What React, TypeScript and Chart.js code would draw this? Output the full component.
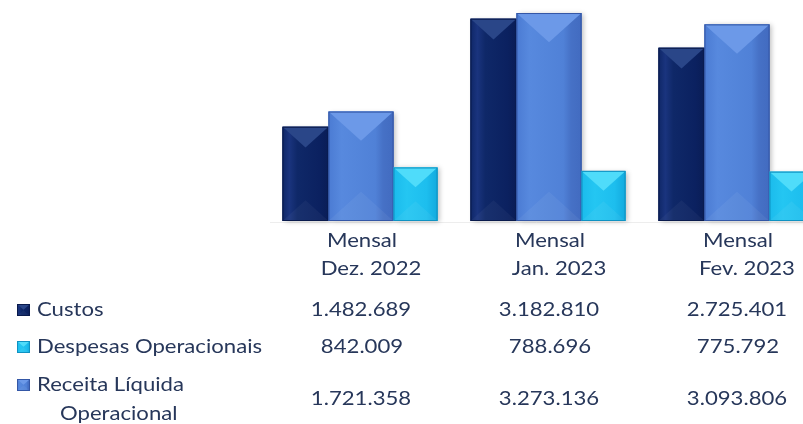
import React, { useEffect, useRef } from "react";
import { Chart, registerables } from "chart.js";

Chart.register(...registerables);

// ---------------- data ----------------
const columnTitle = "Mensal";
const categories = ["Dez. 2022", "Jan. 2023", "Fev. 2023"];
const seriesCustos = "Custos";
const seriesDespesas = "Despesas Operacionais";
const seriesReceitaLine1 = "Receita Líquida";
const seriesReceitaLine2 = "Operacional";
const custos = [1482689, 3182810, 2725401];
const despesas = [842009, 788696, 775792];
const receita = [1721358, 3273136, 3093806];

// ---------------- styles ----------------
const FONT = "Lato, 'Open Sans', sans-serif";
const FONT_SIZE = 19;
const SX = 1.165;
const TEXT_COLOR = "#27375a";

type Facets = { stops: [number, string][]; top: string; bottom: string; border: string; base: string };
const STYLE_CUSTOS: Facets = {
  stops: [[0, "#0f2767"], [0.15, "#1a347e"], [0.32, "#0f2868"], [0.8, "#0b2160"], [1, "#0a1d56"]],
  top: "#2a4688", bottom: "rgba(255,255,255,0.04)", border: "#091a4c", base: "#112a6c",
};
const STYLE_RECEITA: Facets = {
  stops: [[0, "#4b7bd3"], [0.2, "#5789de"], [0.72, "#5081d7"], [0.84, "#4671c6"], [1, "#426bc0"]],
  top: "#6c99e8", bottom: "rgba(255,255,255,0.05)", border: "#3457a6", base: "#4b7ad0",
};
const STYLE_DESPESAS: Facets = {
  stops: [[0, "#1bbbec"], [0.3, "#24c6f2"], [0.75, "#1dbeee"], [1, "#12aade"]],
  top: "#4fdcfa", bottom: "rgba(255,255,255,0.05)", border: "#0f92c2", base: "#1ebdec",
};

function fmt(n: number): string {
  return String(n).replace(/\B(?=(\d{3})+(?!\d))/g, ".");
}

function drawStretched(ctx: CanvasRenderingContext2D, text: string, x: number, y: number, align: "left" | "center") {
  ctx.save();
  ctx.font = `${FONT_SIZE}px ${FONT}`;
  ctx.fillStyle = TEXT_COLOR;
  ctx.textBaseline = "alphabetic";
  const w = ctx.measureText(text).width * SX;
  const left = align === "center" ? x - w / 2 : x;
  ctx.translate(left, y);
  ctx.scale(SX, 1);
  ctx.textAlign = "left";
  ctx.fillText(text, 0, 0);
  ctx.restore();
}

function drawFacets(ctx: CanvasRenderingContext2D, L: number, R: number, T: number, B: number, s: Facets) {
  const w = R - L;
  const h = B - T;
  const d = Math.min(w * 0.45, h / 2);
  ctx.save();
  const g = ctx.createLinearGradient(L, 0, R, 0);
  s.stops.forEach(([p, c]) => g.addColorStop(p, c));
  ctx.fillStyle = g;
  ctx.fillRect(L, T, w, h);
  // top bevel
  ctx.fillStyle = s.top;
  ctx.beginPath();
  ctx.moveTo(L, T);
  ctx.lineTo(R, T);
  ctx.lineTo(L + w / 2, T + d);
  ctx.closePath();
  ctx.fill();
  // bottom bevel
  ctx.fillStyle = s.bottom;
  ctx.beginPath();
  ctx.moveTo(L, B);
  ctx.lineTo(R, B);
  ctx.lineTo(L + w / 2, B - d);
  ctx.closePath();
  ctx.fill();
  // border
  ctx.strokeStyle = s.border;
  ctx.lineWidth = 1;
  ctx.strokeRect(L + 0.5, T + 0.5, w - 1, h - 1);
  ctx.restore();
}

const bevelPlugin = {
  id: "bevelBars",
  afterDatasetsUpdate(chart: any) {
    const xs = chart.scales.x;
    const widths = chart.data.datasets.map((d: any) => d.barW as number);
    const total = widths.reduce((a: number, b: number) => a + b, 0);
    chart.data.datasets.forEach((ds: any, di: number) => {
      const meta = chart.getDatasetMeta(di);
      let off = -total / 2;
      for (let k = 0; k < di; k++) off += widths[k];
      meta.data.forEach((el: any, i: number) => {
        const c = xs.getPixelForValue(i);
        el.x = c + off + widths[di] / 2;
        el.width = widths[di];
      });
    });
  },
  beforeDatasetsDraw(chart: any) {
    const ctx: CanvasRenderingContext2D = chart.ctx;
    ctx.save();
    ctx.strokeStyle = "#ededed";
    ctx.lineWidth = 1;
    ctx.beginPath();
    ctx.moveTo(270, chart.chartArea.bottom + 1.5);
    ctx.lineTo(chart.width, chart.chartArea.bottom + 1.5);
    ctx.stroke();
    chart.data.datasets.forEach((ds: any, di: number) => {
      const meta = chart.getDatasetMeta(di);
      meta.data.forEach((el: any) => {
        const L = el.x - el.width / 2;
        const T = el.y;
        ctx.shadowColor = "rgba(0,0,0,0.25)";
        ctx.shadowBlur = 5;
        ctx.shadowOffsetX = 2;
        ctx.shadowOffsetY = 1;
        ctx.fillStyle = "#888";
        ctx.fillRect(L, T, el.width, el.base - T);
      });
    });
    ctx.restore();
  },
  afterDatasetsDraw(chart: any) {
    const ctx: CanvasRenderingContext2D = chart.ctx;
    chart.data.datasets.forEach((ds: any, di: number) => {
      const meta = chart.getDatasetMeta(di);
      meta.data.forEach((el: any) => {
        const L = el.x - el.width / 2;
        const R = el.x + el.width / 2;
        drawFacets(ctx, L, R, el.y, el.base, ds.facets as Facets);
      });
    });
  },
  afterDraw(chart: any) {
    const ctx: CanvasRenderingContext2D = chart.ctx;
    const xs = chart.scales.x;
    categories.forEach((cat, i) => {
      const c = xs.getPixelForValue(i);
      drawStretched(ctx, columnTitle, c + 2, 247, "center");
      drawStretched(ctx, cat, c + 11, 275, "center");
      drawStretched(ctx, fmt(custos[i]), c + 1, 316, "center");
      drawStretched(ctx, fmt(despesas[i]), c + 2, 353, "center");
      drawStretched(ctx, fmt(receita[i]), c + 1, 405, "center");
    });
    const key = (y: number, s: Facets) => {
      drawFacets(ctx, 17, 30, y, y + 12, s);
    };
    key(304, STYLE_CUSTOS);
    key(341, STYLE_DESPESAS);
    key(379, STYLE_RECEITA);
    drawStretched(ctx, seriesCustos, 37, 316, "left");
    drawStretched(ctx, seriesDespesas, 37, 353, "left");
    drawStretched(ctx, seriesReceitaLine1, 37, 391, "left");
    drawStretched(ctx, seriesReceitaLine2, 60, 420, "left");
  },
};

export default function App() {
  const ref = useRef<HTMLCanvasElement>(null);
  useEffect(() => {
    if (!ref.current) return;
    const chart = new Chart(ref.current, {
      type: "bar",
      data: {
        labels: categories,
        datasets: [
          { label: seriesCustos, data: custos, backgroundColor: STYLE_CUSTOS.base, borderWidth: 0, clip: false, barW: 46, facets: STYLE_CUSTOS } as any,
          { label: `${seriesReceitaLine1} ${seriesReceitaLine2}`, data: receita, backgroundColor: STYLE_RECEITA.base, borderWidth: 0, clip: false, barW: 65, facets: STYLE_RECEITA } as any,
          { label: seriesDespesas, data: despesas, backgroundColor: STYLE_DESPESAS.base, borderWidth: 0, clip: false, barW: 44, facets: STYLE_DESPESAS } as any,
        ],
      },
      options: {
        animation: false,
        responsive: true,
        maintainAspectRatio: false,
        layout: { padding: { left: 360, right: 67, top: 0, bottom: 203 } },
        plugins: { legend: { display: false }, tooltip: { enabled: false } },
        scales: {
          x: { display: false, offset: false, grid: { display: false } },
          y: { display: false, min: 0, max: 3478000, grid: { display: false } },
        },
      },
      plugins: [bevelPlugin],
    });
    return () => chart.destroy();
  }, []);
  return (
    <div style={{ position: "absolute", left: 0, top: 0, width: 803, height: 424, background: "#ffffff" }}>
      <canvas ref={ref} />
    </div>
  );
}
